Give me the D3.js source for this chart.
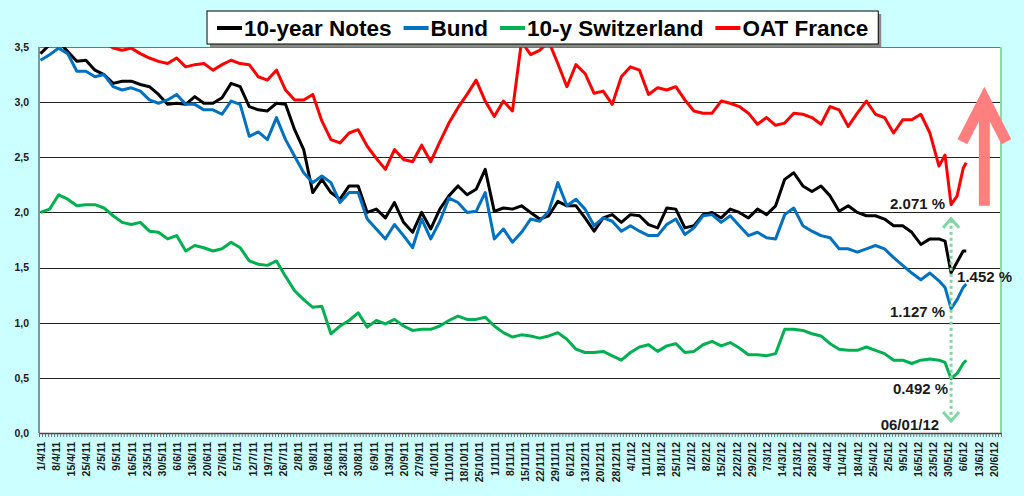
<!DOCTYPE html>
<html>
<head>
<meta charset="utf-8">
<script src="https://cdn.jsdelivr.net/npm/d3@7"></script>
<style>
  body { margin: 0; background: #ccffff; }
  svg { display: block; }
</style>
</head>
<body>
<svg id="chart" width="1024" height="496"></svg>
<script>
// business-day position of each sample (0 = 1/4/11)
const days = d3.range(0, 298, 3).concat([299, 301, 303, 305, 306]);

const notes = [
  3.44, 3.52, 3.55, 3.46, 3.37, 3.38, 3.29, 3.25, 3.17, 3.19,
  3.19, 3.16, 3.14, 3.07, 2.98, 2.99, 2.98, 3.05, 2.99, 2.99,
  3.04, 3.17, 3.14, 2.96, 2.93, 2.92, 2.99, 2.98, 2.75, 2.57,
  2.18, 2.30, 2.18, 2.12, 2.24, 2.24, 2.00, 2.03, 1.95, 2.09,
  1.91, 1.82, 2.00, 1.85, 2.03, 2.15, 2.24, 2.16, 2.21, 2.39,
  2.01, 2.04, 2.03, 2.06, 2.00, 1.94, 1.97, 2.10, 2.06, 2.06,
  1.95, 1.83, 1.95, 1.98, 1.91, 1.98, 1.97, 1.89, 1.86, 2.04,
  2.03, 1.86, 1.88, 1.98, 2.00, 1.95, 2.03, 2.00, 1.95, 2.03,
  1.98, 2.06, 2.30, 2.36, 2.24, 2.19, 2.24, 2.15, 2.01, 2.06,
  2.00, 1.97, 1.97, 1.94, 1.88, 1.88, 1.82, 1.71, 1.76, 1.76,
  1.74, 1.452, 1.55, 1.65, 1.65
];

const bund = [
  3.38, 3.43, 3.49, 3.44, 3.28, 3.28, 3.23, 3.25, 3.14, 3.11,
  3.13, 3.10, 3.02, 2.99, 3.02, 3.07, 2.98, 2.98, 2.93, 2.93,
  2.89, 3.01, 2.98, 2.69, 2.73, 2.66, 2.86, 2.66, 2.51, 2.36,
  2.27, 2.33, 2.27, 2.09, 2.18, 2.18, 1.94, 1.85, 1.76, 1.89,
  1.79, 1.68, 1.94, 1.76, 1.92, 2.13, 2.09, 2.00, 2.01, 2.18,
  1.76, 1.85, 1.73, 1.82, 1.94, 1.92, 2.01, 2.27, 2.06, 2.12,
  2.03, 1.88, 1.95, 1.92, 1.83, 1.88, 1.83, 1.79, 1.79, 1.89,
  1.94, 1.80, 1.86, 1.97, 1.98, 1.91, 1.97, 1.88, 1.79, 1.82,
  1.77, 1.76, 1.98, 2.04, 1.88, 1.83, 1.79, 1.77, 1.67, 1.67,
  1.64, 1.67, 1.70, 1.67, 1.59, 1.52, 1.45, 1.39, 1.45, 1.38,
  1.32, 1.127, 1.21, 1.32, 1.35
];

const swiss = [
  2.00, 2.03, 2.16, 2.12, 2.06, 2.07, 2.07, 2.04, 1.97, 1.91,
  1.89, 1.91, 1.83, 1.82, 1.76, 1.79, 1.65, 1.70, 1.68, 1.65,
  1.67, 1.73, 1.68, 1.56, 1.53, 1.52, 1.56, 1.42, 1.29, 1.21,
  1.14, 1.15, 0.90, 0.97, 1.02, 1.09, 0.96, 1.02, 0.99, 1.03,
  0.97, 0.93, 0.94, 0.94, 0.97, 1.02, 1.06, 1.03, 1.03, 1.05,
  0.97, 0.91, 0.87, 0.89, 0.88, 0.86, 0.88, 0.91, 0.85, 0.76,
  0.73, 0.73, 0.74, 0.70, 0.66, 0.73, 0.78, 0.80, 0.74, 0.79,
  0.81, 0.73, 0.74, 0.80, 0.83, 0.79, 0.82, 0.77, 0.71, 0.71,
  0.70, 0.72, 0.94, 0.94, 0.93, 0.90, 0.88, 0.81, 0.76, 0.75,
  0.75, 0.78, 0.75, 0.72, 0.66, 0.66, 0.63, 0.66, 0.67, 0.66,
  0.64, 0.492, 0.54, 0.63, 0.66
];

const oat = [
  3.62, 3.66, 3.64, 3.60, 3.58, 3.60, 3.57, 3.55, 3.49, 3.47,
  3.49, 3.44, 3.40, 3.37, 3.35, 3.40, 3.32, 3.34, 3.35, 3.29,
  3.34, 3.38, 3.35, 3.34, 3.23, 3.20, 3.29, 3.11, 3.02, 3.02,
  3.07, 2.83, 2.66, 2.63, 2.72, 2.75, 2.60, 2.49, 2.39, 2.57,
  2.48, 2.46, 2.61, 2.46, 2.64, 2.81, 2.95, 3.07, 3.20, 3.01,
  2.87, 3.01, 2.92, 3.55, 3.43, 3.47, 3.55, 3.35, 3.14, 3.34,
  3.26, 3.08, 3.10, 2.98, 3.23, 3.32, 3.29, 3.07, 3.13, 3.11,
  3.14, 3.02, 2.92, 2.90, 2.90, 3.01, 2.99, 2.96, 2.90, 2.80,
  2.86, 2.79, 2.81, 2.90, 2.89, 2.86, 2.80, 2.96, 2.93, 2.78,
  2.90, 3.01, 2.89, 2.86, 2.72, 2.84, 2.84, 2.89, 2.72, 2.42,
  2.52, 2.071, 2.15, 2.40, 2.45
];

const seriesNames = ["10-year Notes", "Bund", "10-y Switzerland", "OAT France"];
const seriesValues = [notes, bund, swiss, oat];
const colours = ["#000000", "#0070c0", "#00b050", "#ff0000"];

const dateLabels = [
  "1/4/11", "8/4/11", "15/4/11", "25/4/11", "2/5/11", "9/5/11", "16/5/11", "23/5/11",
  "30/5/11", "6/6/11", "13/6/11", "20/6/11", "27/6/11", "5/7/11", "12/7/11", "19/7/11",
  "26/7/11", "2/8/11", "9/8/11", "16/8/11", "23/8/11", "30/8/11", "6/9/11", "13/9/11",
  "20/9/11", "27/9/11", "4/10/11", "11/10/11", "18/10/11", "25/10/11", "1/11/11", "8/11/11",
  "15/11/11", "22/11/11", "29/11/11", "6/12/11", "13/12/11", "20/12/11", "28/12/11", "4/1/12",
  "11/1/12", "18/1/12", "25/1/12", "1/2/12", "8/2/12", "15/2/12", "22/2/12", "29/2/12",
  "7/3/12", "14/3/12", "21/3/12", "28/3/12", "4/4/12", "11/4/12", "18/4/12", "25/4/12",
  "2/5/12", "9/5/12", "16/5/12", "23/5/12", "30/5/12", "6/6/12", "13/6/12", "20/6/12"
];
const labelEvery = 5;
const nDays = 318;

const yTicks = [0, 0.5, 1, 1.5, 2, 2.5, 3, 3.5];

// the 1 June low and its labels
const lowDay = 301;
const lowLabels = ["1.452 %", "1.127 %", "0.492 %", "2.071 %"];

const svg = d3.select("#chart");
const plot = { left: 39, right: 1001, top: 47, bottom: 433 };

const x = d3.scaleLinear().domain([-0.5, nDays - 0.5]).range([plot.left, plot.right]);
const y = d3.scaleLinear().domain([0, 3.5]).range([plot.bottom, plot.top]);

svg.append("rect")
  .attr("width", 1024).attr("height", 496).attr("fill", "#ccffff");

svg.append("rect")
  .attr("x", plot.left).attr("y", plot.top)
  .attr("width", plot.right - plot.left).attr("height", plot.bottom - plot.top)
  .attr("fill", "#ffffff");

// gridlines
svg.append("g")
  .selectAll("line")
  .data(yTicks.filter(d => d > 0 && d < 3.5))
  .enter().append("line")
  .attr("x1", plot.left).attr("x2", plot.right)
  .attr("y1", d => Math.round(y(d)) + 0.5).attr("y2", d => Math.round(y(d)) + 0.5)
  .attr("stroke", "#222").attr("stroke-width", 1);

// plot frame: green top and right, grey left
svg.append("line")
  .attr("x1", plot.left).attr("x2", plot.right)
  .attr("y1", plot.top + 0.5).attr("y2", plot.top + 0.5)
  .attr("stroke", "#3a9a4a").attr("stroke-width", 1.2);
svg.append("line")
  .attr("x1", plot.right).attr("x2", plot.right)
  .attr("y1", plot.top).attr("y2", plot.bottom)
  .attr("stroke", "#8fd9a0").attr("stroke-width", 2);
svg.append("line")
  .attr("x1", plot.left).attr("x2", plot.left)
  .attr("y1", plot.top).attr("y2", plot.bottom)
  .attr("stroke", "#7a9a9a").attr("stroke-width", 2);

// y axis labels
const yAxis = svg.append("g")
  .attr("transform", `translate(${plot.left - 2},0)`)
  .call(d3.axisLeft(y).tickValues(yTicks).tickSize(0).tickPadding(8)
    .tickFormat(d => d3.format(".1f")(d).replace(".", ",")));
yAxis.select(".domain").remove();
yAxis.selectAll("text")
  .attr("font-family", "'Liberation Sans', Arial, sans-serif")
  .attr("font-weight", "bold").attr("font-size", "10.5px").attr("fill", "#1a1a1a");

// x axis: a tick for every day, a label every 5 days
const xMinor = svg.append("g")
  .attr("transform", `translate(0,${plot.bottom})`)
  .call(d3.axisBottom(x).tickValues(d3.range(nDays + 1).map(d => d - 0.5))
    .tickSize(4).tickSizeOuter(0).tickFormat(""));
xMinor.select(".domain").attr("stroke", "#444").attr("stroke-width", 1.5);
xMinor.selectAll(".tick line").attr("stroke", "#555").attr("stroke-width", 0.8);

const xLabels = svg.append("g")
  .attr("transform", `translate(0,${plot.bottom})`)
  .call(d3.axisBottom(x).tickValues(dateLabels.map((d, k) => k * labelEvery))
    .tickSize(0).tickFormat((d, k) => dateLabels[k]));
xLabels.select(".domain").remove();
xLabels.selectAll("text")
  .attr("transform", "rotate(-90)")
  .attr("text-anchor", "end")
  .attr("x", -9).attr("y", 0).attr("dy", "0.36em")
  .attr("font-family", "'Liberation Sans', Arial, sans-serif")
  .attr("font-weight", "bold").attr("font-size", "10.5px").attr("fill", "#1a1a1a");

// series lines, clipped to the plot
svg.append("clipPath").attr("id", "clip")
  .append("rect")
  .attr("x", plot.left).attr("y", plot.top)
  .attr("width", plot.right - plot.left).attr("height", plot.bottom - plot.top);

const line = d3.line()
  .x((d, k) => x(days[k]))
  .y(d => y(d));

svg.append("g").attr("clip-path", "url(#clip)")
  .selectAll("path")
  .data(seriesValues)
  .enter().append("path")
  .attr("d", d => line(d))
  .attr("fill", "none")
  .attr("stroke", (d, k) => colours[k])
  .attr("stroke-width", 3)
  .attr("stroke-linejoin", "round");

// annotations
const lowIdx = days.indexOf(lowDay);
const xl = x(lowDay);
const annoFont = "'Liberation Sans', Arial, sans-serif";

// green dotted double arrow at the low
const greenA = "#7fd6a0";
const gTop = y(1.96), gBot = y(0.09);
svg.append("line")
  .attr("x1", xl).attr("x2", xl).attr("y1", gTop + 3).attr("y2", gBot - 3)
  .attr("stroke", greenA).attr("stroke-width", 3).attr("stroke-dasharray", "3,3");
svg.append("path")
  .attr("d", `M${xl - 8},${gTop + 11}L${xl},${gTop + 2}L${xl + 8},${gTop + 11}`)
  .attr("fill", "none").attr("stroke", greenA).attr("stroke-width", 3);
svg.append("path")
  .attr("d", `M${xl - 8},${gBot - 11}L${xl},${gBot - 2}L${xl + 8},${gBot - 11}`)
  .attr("fill", "none").attr("stroke", greenA).attr("stroke-width", 3);

// big red arrow
const xr = x(312);
svg.append("path")
  .attr("d", `M${xr},${y(2.06)}L${xr},${y(3.0)}`)
  .attr("stroke", "#ff7f7f").attr("stroke-width", 11).attr("fill", "none");
svg.append("path")
  .attr("d", `M${xr - 22},${y(2.64)}L${xr},${y(3.03)}L${xr + 22},${y(2.64)}`)
  .attr("stroke", "#ff7f7f").attr("stroke-width", 11).attr("fill", "none")
  .attr("stroke-linejoin", "miter").attr("stroke-miterlimit", 10);

const annos = [
  { text: lowLabels[3], v: oat[lowIdx], dx: -6, dy: 4, anchor: "end" },
  { text: lowLabels[0], v: notes[lowIdx], dx: 6, dy: 9, anchor: "start" },
  { text: lowLabels[1], v: bund[lowIdx], dx: -6, dy: 8, anchor: "end" },
  { text: lowLabels[2], v: swiss[lowIdx], dx: -3, dy: 15, anchor: "end" },
  { text: "06/01/12", v: 0, dx: -12, dy: -3, anchor: "end" }
];
svg.append("g")
  .selectAll("text")
  .data(annos)
  .enter().append("text")
  .attr("x", d => xl + d.dx)
  .attr("y", d => y(d.v) + d.dy)
  .attr("text-anchor", d => d.anchor)
  .attr("font-family", annoFont).attr("font-weight", "bold")
  .attr("font-size", "15px").attr("fill", "#1a1a1a")
  .text(d => d.text);

// legend
const legend = svg.append("g");
const legendTop = 11, legendH = 33;
const shadow = legend.append("rect");
const box = legend.append("rect");
let cursor = 217;
seriesNames.forEach((name, k) => {
  legend.append("line")
    .attr("x1", cursor).attr("x2", cursor + 25)
    .attr("y1", 28).attr("y2", 28)
    .attr("stroke", colours[k]).attr("stroke-width", 4);
  const t = legend.append("text")
    .attr("x", cursor + 27).attr("y", 36)
    .attr("font-family", "'Liberation Sans', Arial, sans-serif")
    .attr("font-weight", "bold").attr("font-size", "22.5px").attr("fill", "#000")
    .text(name);
  cursor += 27 + t.node().getComputedTextLength() + 12;
});
const legendW = cursor - 2 - 207;
shadow.attr("x", 210).attr("y", legendTop + 3).attr("width", legendW).attr("height", legendH)
  .attr("fill", "#8a8a8a");
box.attr("x", 207).attr("y", legendTop).attr("width", legendW).attr("height", legendH)
  .attr("fill", "#fff").attr("stroke", "#000").attr("stroke-width", 1);
</script>
</body>
</html>
